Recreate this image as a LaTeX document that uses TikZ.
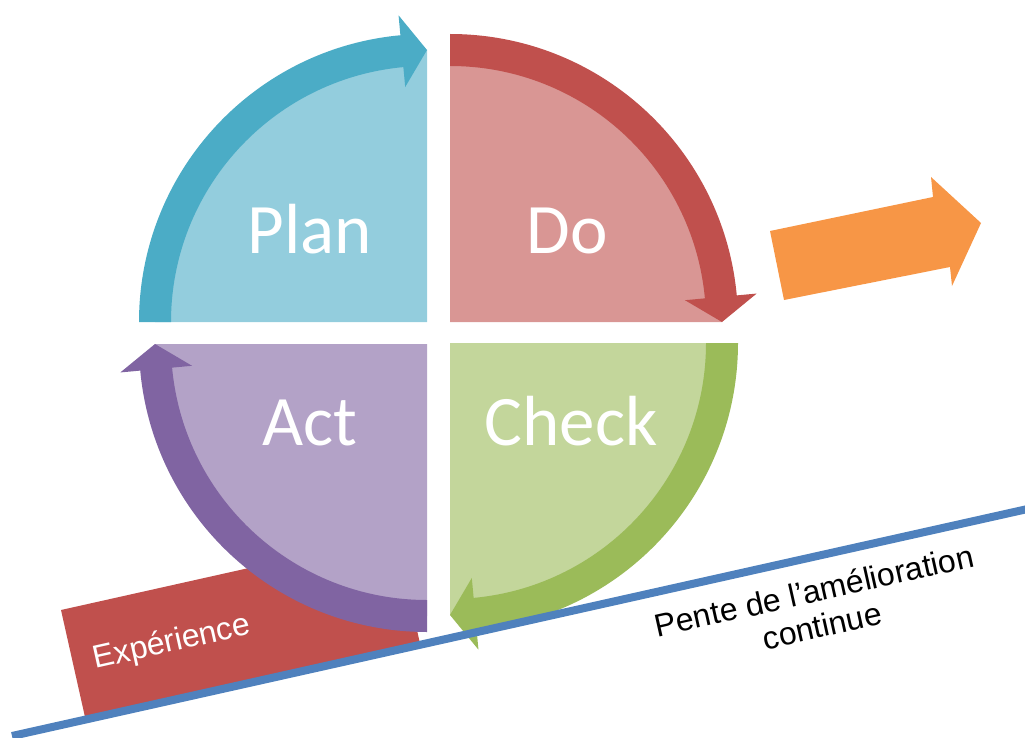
\documentclass[tikz,border=0pt]{standalone}
\usepackage{fontspec}
\setmainfont{Carlito}
\newfontfamily\arialf{Liberation Sans}
\definecolor{planF}{HTML}{93CDDD}
\definecolor{planA}{HTML}{4BACC6}
\definecolor{doF}{HTML}{D99694}
\definecolor{doA}{HTML}{C0504D}
\definecolor{checkF}{HTML}{C3D69B}
\definecolor{checkA}{HTML}{9BBB59}
\definecolor{actF}{HTML}{B3A2C7}
\definecolor{actA}{HTML}{8064A2}
\definecolor{orangeA}{HTML}{F79646}
\definecolor{expR}{HTML}{C0504D}
\definecolor{slopeB}{HTML}{4F81BD}
\def\rOut{288}
\def\rIn{256}
\def\rMid{272}
\def\hW{36}
\def\hD{5.3}
% #1 corner, #2 start angle, #3 end angle, #4 fill colour, #5 arrow colour
\newcommand{\pdcaquad}[5]{%
  \begin{scope}[shift={#1}]
    \fill[#4] (0,0) -- ({#2}:\rMid) arc[start angle={#2}, end angle={#3}, radius=\rMid] -- cycle;
    \fill[#5] ({#2}:\rOut) arc[start angle={#2}, end angle={#3-\hD}, radius=\rOut]
      -- ({#3-\hD}:{\rMid+\hW}) -- ({#3}:\rMid) -- ({#3-\hD}:{\rMid-\hW})
      -- ({#3-\hD}:\rIn) arc[start angle={#3-\hD}, end angle={#2}, radius=\rIn] -- cycle;
  \end{scope}}
\begin{document}
\begin{tikzpicture}[x=1pt,y=-1pt,
  quadlbl/.style={text=white, font=\fontsize{71}{80}\selectfont, inner sep=0pt, anchor=base},
  explbl/.style={text=white, font=\arialf\fontsize{32}{38}\selectfont, inner sep=0pt},
  pentelbl/.style={text=black, font=\arialf\fontsize{32}{36}\selectfont, inner sep=0pt, align=center},
  slopeline/.style={draw=slopeB, line width=8pt}]
\useasboundingbox (0,0) rectangle (1025,738);
% Experience box
\fill[expR] (61,610) -- (395.7,535.2) -- (419.7,642.2) -- (85,717) -- cycle;
% PDCA quadrants
\pdcaquad{(427,322)}{180}{270}{planF}{planA}
\pdcaquad{(450,322)}{270}{360}{doF}{doA}
\pdcaquad{(450,343)}{0}{90}{checkF}{checkA}
\pdcaquad{(427,344)}{90}{180}{actF}{actA}
% orange arrow
\fill[orangeA] (770,231) -- (933,197) -- (931,177) -- (981,223) -- (952,286) -- (950,267) -- (784,300) -- cycle;
% slope line
\coordinate (s0) at (12,736);
\coordinate (s1) at (1032,508);
\draw[slopeline] (s0) -- (s1);
% labels
\node[quadlbl] (plan) at (310,253) {Plan};
\node[quadlbl] (do) at (567,253) {Do};
\node[quadlbl] (act) at (310,445) {Act};
\node[quadlbl] (check) at (571,445) {Check};
\node[explbl, rotate=12.6] (exp) at (172,643) {Expérience};
\node[pentelbl, rotate=12.6] (pente) at (818,608) {Pente de l’amélioration\\continue};
\end{tikzpicture}
\end{document}
